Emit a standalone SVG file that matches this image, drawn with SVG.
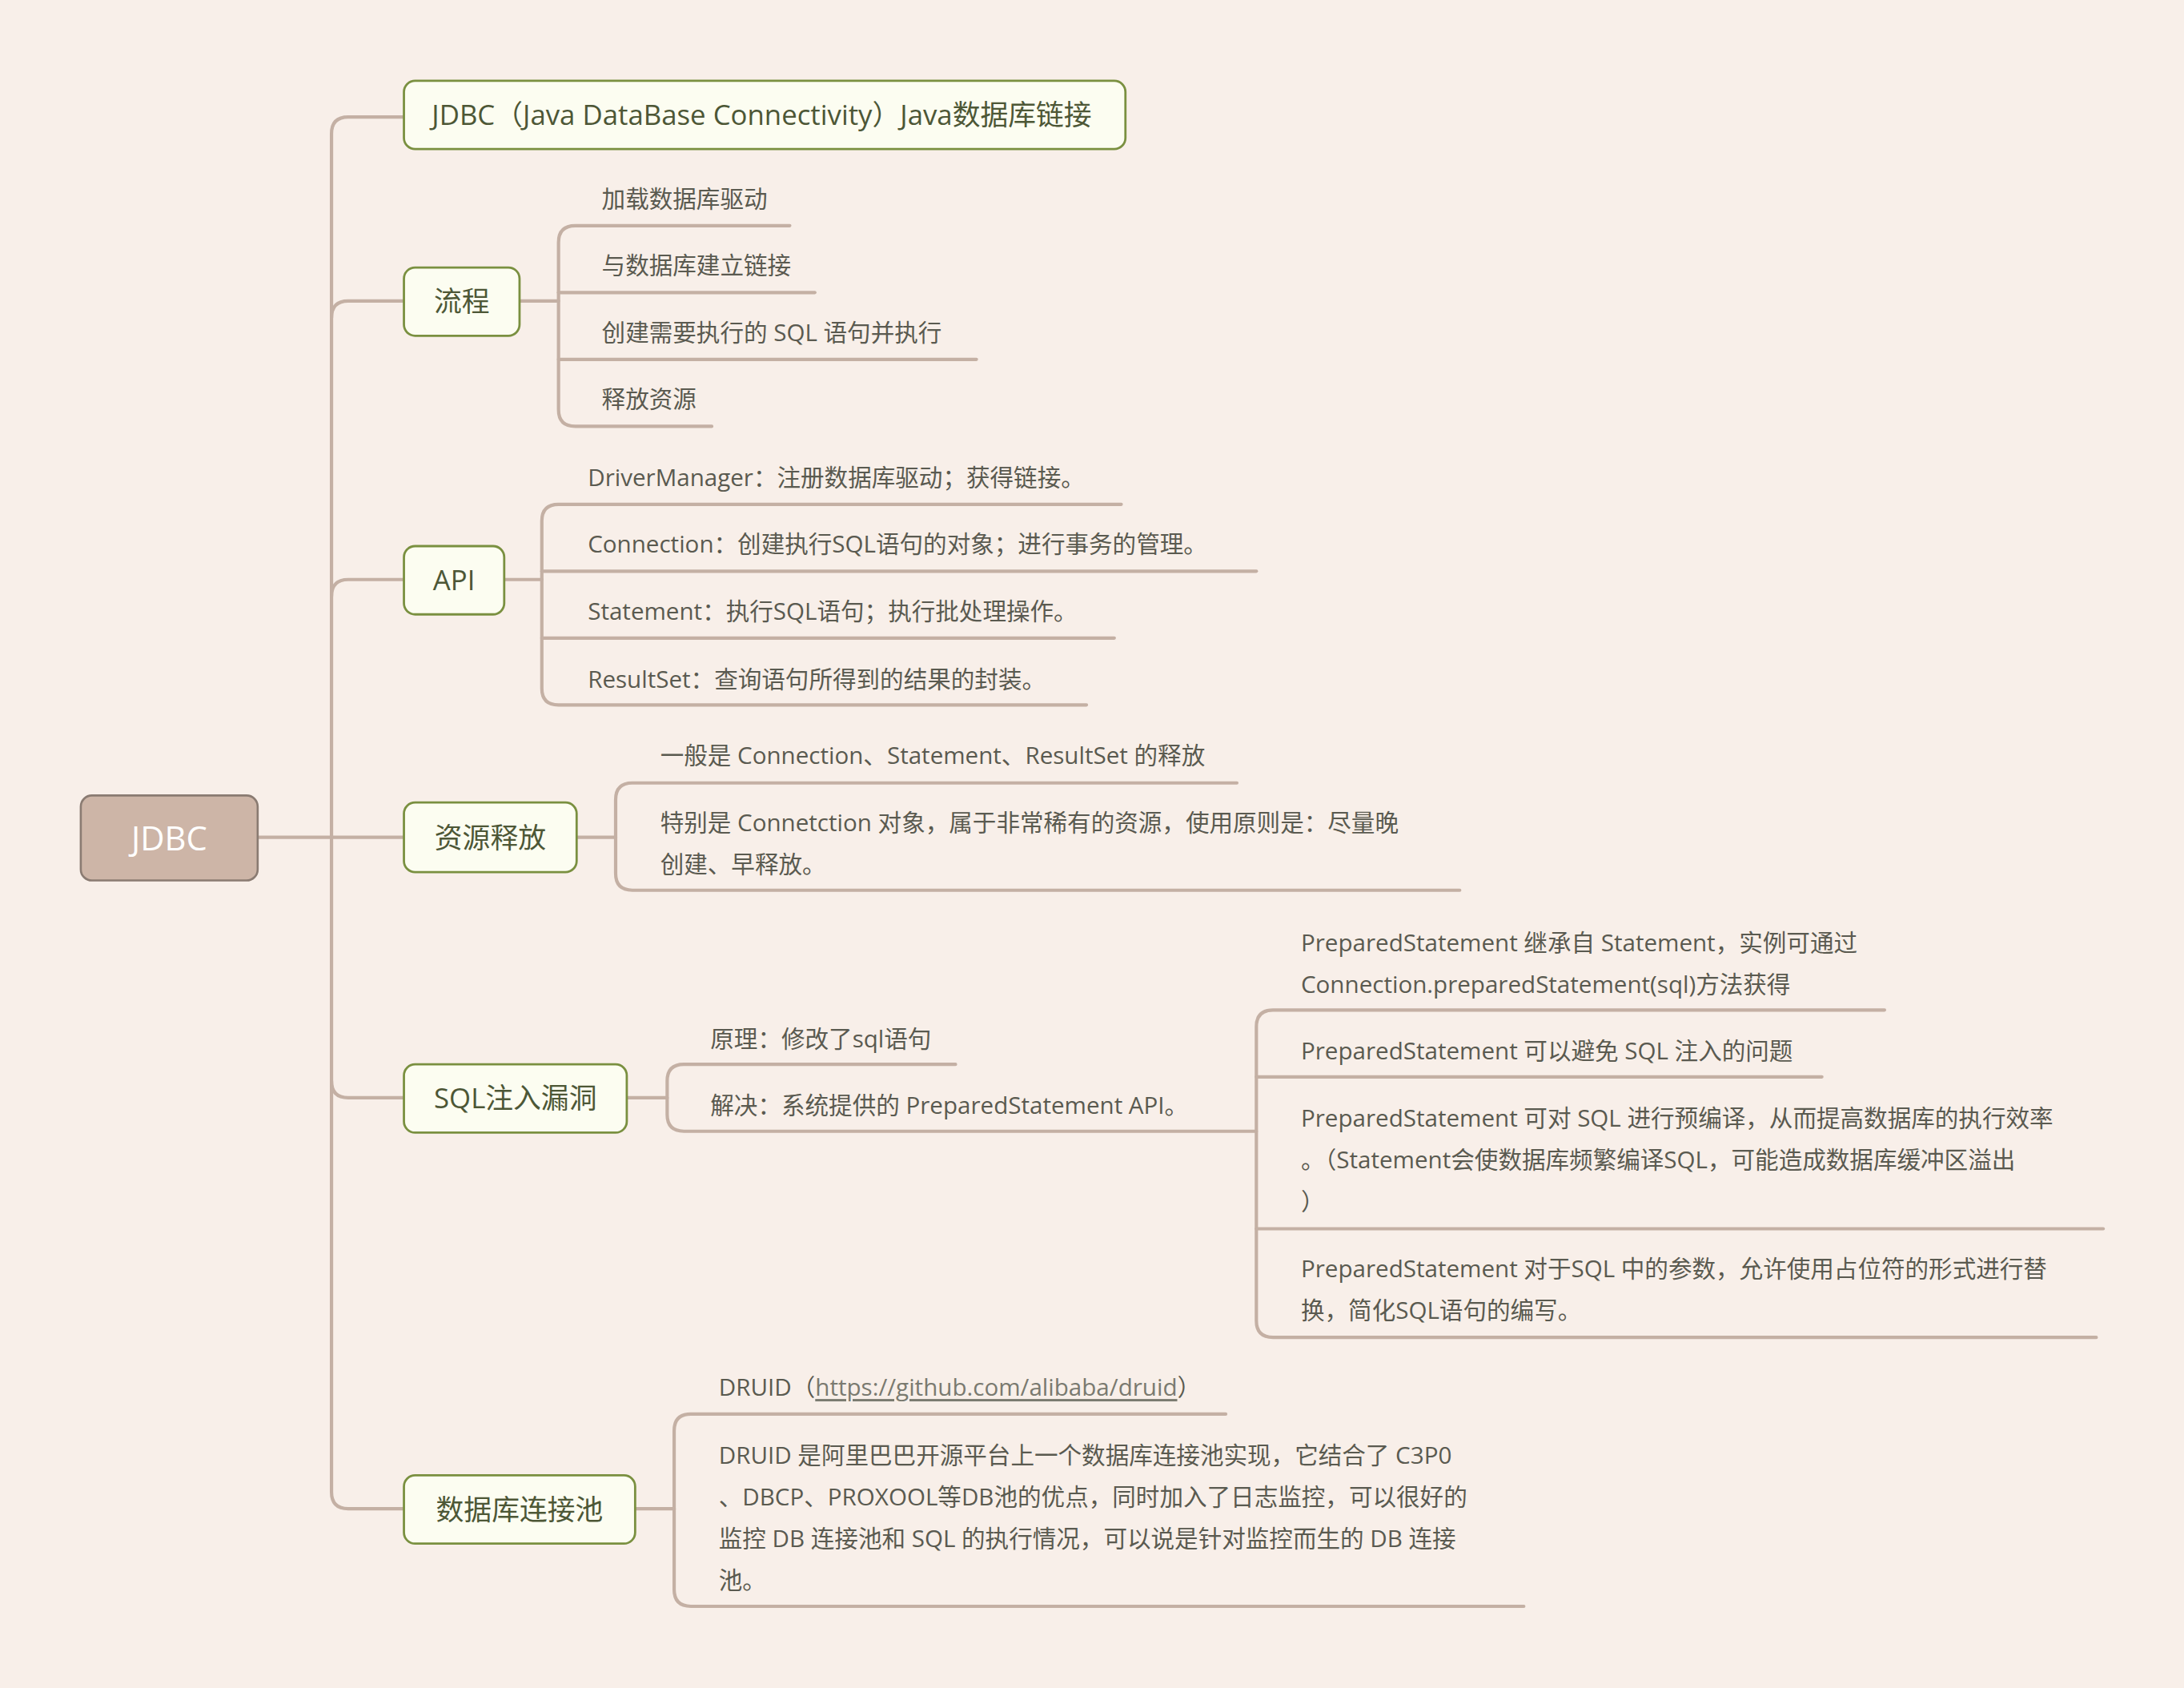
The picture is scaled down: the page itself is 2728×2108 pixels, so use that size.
<svg xmlns="http://www.w3.org/2000/svg" width="2728" height="2108" viewBox="0 0 2728 2108">
<style>
.ln{fill:none;stroke:#c4b0a4;stroke-width:2.4;stroke-linecap:round}
.n1 rect{fill:#fcfdf1;stroke:#7a9040;stroke-width:1.6}
.n1 text{font-family:"Open Sans","Noto Sans CJK SC",sans-serif;font-size:20px;fill:#4d5736;dominant-baseline:central}
.t2{font-family:"Open Sans","Noto Sans CJK SC",sans-serif;font-size:17px;fill:#5a5a50;dominant-baseline:central}
</style>
<rect width="2728" height="2108" fill="#f8efe9"/>
<g transform="scale(1.7398)">
<g id="connectors" class="ln">
<path d="M185,601 H290"/>
<path d="M290,84 H250 Q238,84 238,96 V1071 Q238,1083 250,1083 H290"/>
<path d="M238,228 Q238,216 250,216 H290"/>
<path d="M238,428 Q238,416 250,416 H290"/>
<path d="M238,776 Q238,788 250,788 H290"/>
<path d="M373,216 H401"/>
<path d="M567,162 H413 Q401,162 401,174 V294 Q401,306 413,306 H511"/>
<path d="M401,210 H585"/><path d="M401,258 H701"/>
<path d="M362,416 H389"/>
<path d="M805,362 H401 Q389,362 389,374 V494 Q389,506 401,506 H780"/>
<path d="M389,410 H902"/><path d="M389,458 H800"/>
<path d="M414,601 H442"/>
<path d="M888,562 H454 Q442,562 442,574 V627 Q442,639 454,639 H1048"/>
<path d="M450,788 H479"/>
<path d="M686,764 H491 Q479,764 479,776 V800 Q479,812 491,812 H902"/>
<path d="M1353,725 H914 Q902,725 902,737 V948 Q902,960 914,960 H1505"/>
<path d="M902,773 H1308"/><path d="M902,882 H1510"/>
<path d="M456,1083 H484"/>
<path d="M880,1015 H496 Q484,1015 484,1027 V1141 Q484,1153 496,1153 H1094"/>
</g>
<g id="root"><rect x="58" y="571" width="127" height="61" rx="8" fill="#cdb5a7" stroke="#8a7b72" stroke-width="1.5"/><text x="121.5" y="601" text-anchor="middle" dominant-baseline="central" font-family="'Open Sans',sans-serif" font-size="24" fill="#ffffff">JDBC</text></g>
<g id="n-def" class="n1"><rect x="290" y="58" width="518" height="49" rx="8"/><text x="310" y="82">JDBC（Java DataBase Connectivity）Java数据库链接</text></g>
<g id="n-flow" class="n1"><rect x="290" y="192" width="83" height="49" rx="8"/><text x="331.5" y="216" text-anchor="middle">流程</text></g>
<g id="n-api" class="n1"><rect x="290" y="392" width="72" height="49" rx="8"/><text x="326" y="416" text-anchor="middle">API</text></g>
<g id="n-res" class="n1"><rect x="290" y="576" width="124" height="50" rx="8"/><text x="352" y="601" text-anchor="middle">资源释放</text></g>
<g id="n-sql" class="n1"><rect x="290" y="764" width="160" height="49" rx="8"/><text x="370" y="788" text-anchor="middle">SQL注入漏洞</text></g>
<g id="n-pool" class="n1"><rect x="290" y="1059" width="166" height="49" rx="8"/><text x="373" y="1083" text-anchor="middle">数据库连接池</text></g>
<g id="flow-items" class="t2">
<text x="432" y="142">加载数据库驱动</text>
<text x="432" y="190">与数据库建立链接</text>
<text x="432" y="238">创建需要执行的 SQL 语句并执行</text>
<text x="432" y="286">释放资源</text>
</g>
<g id="api-items" class="t2">
<text x="422" y="342">DriverManager：注册数据库驱动；获得链接。</text>
<text x="422" y="390">Connection：创建执行SQL语句的对象；进行事务的管理。</text>
<text x="422" y="438">Statement：执行SQL语句；执行批处理操作。</text>
<text x="422" y="487">ResultSet：查询语句所得到的结果的封装。</text>
</g>
<g id="res-items" class="t2">
<text x="474" y="542">一般是 Connection、Statement、ResultSet 的释放</text>
<text x="474" y="590">特别是 Connetction 对象，属于非常稀有的资源，使用原则是：尽量晚</text>
<text x="474" y="620">创建、早释放。</text>
</g>
<g id="sql-items" class="t2">
<text x="510" y="745">原理：修改了sql语句</text>
<text x="510" y="793">解决：系统提供的 PreparedStatement API。</text>
</g>
<g id="ps-items" class="t2">
<text x="934" y="676">PreparedStatement 继承自 Statement，实例可通过</text>
<text x="934" y="706">Connection.preparedStatement(sql)方法获得</text>
<text x="934" y="754">PreparedStatement 可以避免 SQL 注入的问题</text>
<text x="934" y="802">PreparedStatement 可对 SQL 进行预编译，从而提高数据库的执行效率</text>
<text x="934" y="832">。（Statement会使数据库频繁编译SQL，可能造成数据库缓冲区溢出</text>
<text x="934" y="862">）</text>
<text x="934" y="910">PreparedStatement 对于SQL 中的参数，允许使用占位符的形式进行替</text>
<text x="934" y="940">换，简化SQL语句的编写。</text>
</g>
<g id="pool-items" class="t2">
<text x="516" y="995">DRUID（<tspan text-decoration="underline" fill="#7a7a70">https://github.com/alibaba/druid</tspan>）</text>
<text x="516" y="1044">DRUID 是阿里巴巴开源平台上一个数据库连接池实现，它结合了 C3P0</text>
<text x="516" y="1074">、DBCP、PROXOOL等DB池的优点，同时加入了日志监控，可以很好的</text>
<text x="516" y="1104">监控 DB 连接池和 SQL 的执行情况，可以说是针对监控而生的 DB 连接</text>
<text x="516" y="1134">池。</text>
</g>
</g>
</svg>
